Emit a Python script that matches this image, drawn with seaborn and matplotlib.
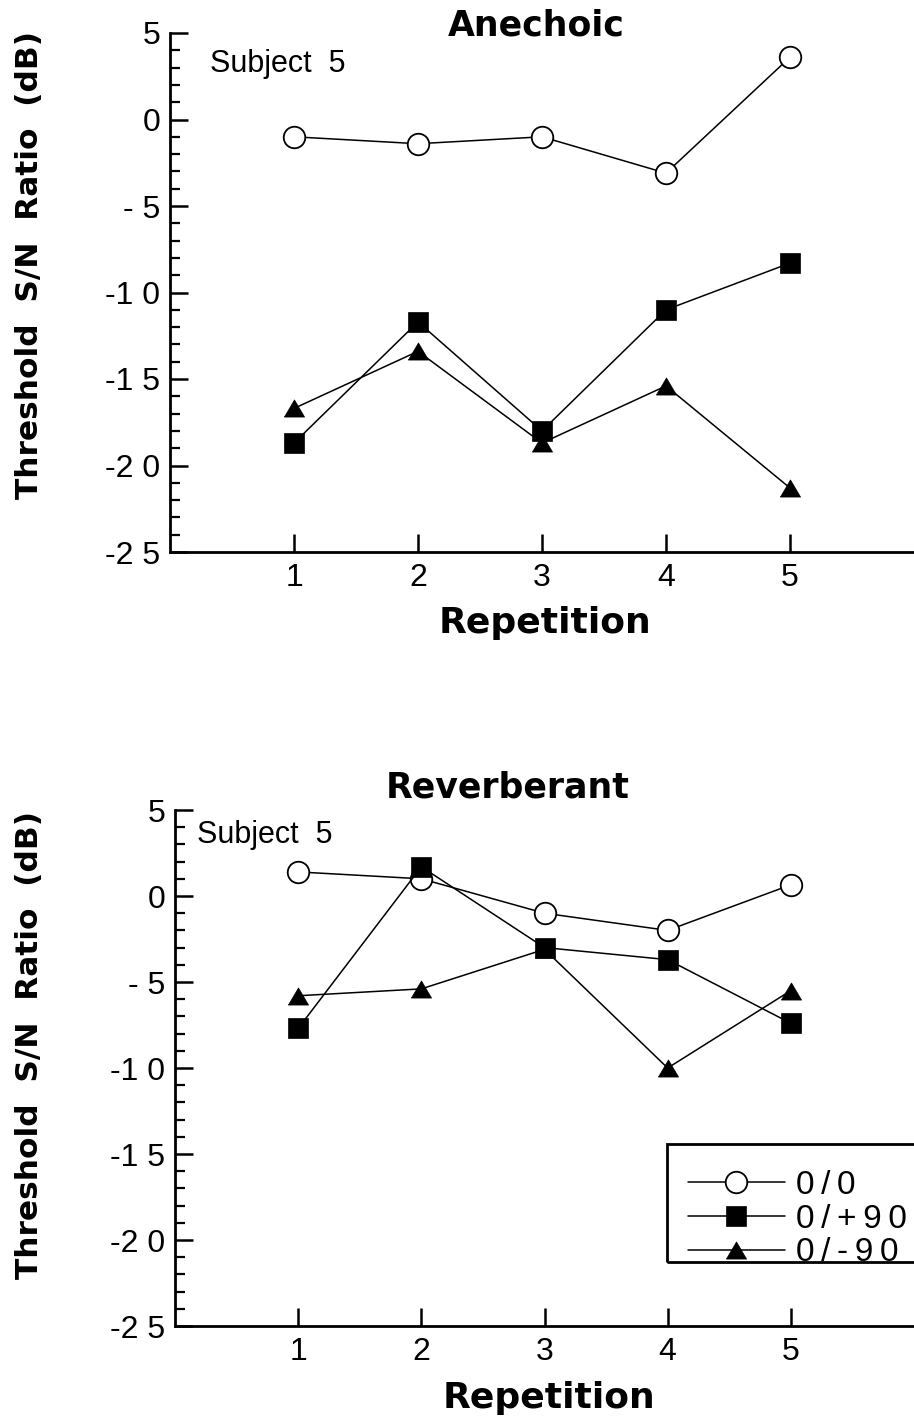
import matplotlib
matplotlib.use("Agg")
import matplotlib.pyplot as plt
from matplotlib.patches import Rectangle
import seaborn as sns
import numpy as np
import pandas as pd

# ---------------- data ----------------
repetitions = [1, 2, 3, 4, 5]
conditions = ["0/0", "0/+90", "0/-90"]

anechoic_00 = [-1.0, -1.4, -1.0, -3.1, 3.6]
anechoic_p90 = [-18.7, -11.7, -18.0, -11.0, -8.3]
anechoic_m90 = [-16.7, -13.4, -18.7, -15.4, -21.3]

reverb_00 = [1.4, 1.0, -1.0, -2.0, 0.65]
reverb_p90 = [-7.7, 1.7, -3.0, -3.7, -7.4]
reverb_m90 = [-5.8, -5.4, -3.1, -10.0, -5.5]

ytick_vals = [-25, -20, -15, -10, -5, 0, 5]
ytick_labels = ["-2 5", "-2 0", "-1 5", "-1 0", "- 5", "0", "5"]
xtick_vals = [1, 2, 3, 4, 5]
xtick_labels = ["1", "2", "3", "4", "5"]

panel_titles = ["Anechoic", "Reverberant"]
subject_text = "Subject  5"
xlabel_text = "Repetition"
ylabel_text = "Threshold  S/N  Ratio  (dB)"

# ---------------- style ----------------
sns.set_theme(style="ticks")
plt.rcParams["font.family"] = ["Liberation Sans", "DejaVu Sans"]
plt.rcParams["text.color"] = "black"

W, H = 914, 1416
fig = plt.figure(figsize=(W / 100, H / 100), dpi=100)

tri = [(-1, -0.85), (1, -0.85), (0, 0.85), (-1, -0.85)]
styles = {
    "0/0": dict(marker="o", markersize=15.5, markerfacecolor="white",
                markeredgecolor="black", markeredgewidth=1.3, zorder=3),
    "0/+90": dict(marker="s", markersize=14.5, markerfacecolor="black",
                  markeredgecolor="black", markeredgewidth=0.5, zorder=5),
    "0/-90": dict(marker=tri, markersize=14.5, markerfacecolor="black",
                  markeredgecolor="black", markeredgewidth=0.5, zorder=4),
}


def spaced(s):
    # letter-spaced display, as in the printed figure
    return "\u2009".join(s)


def make_axes(left_px, bottom_px, top_px):
    l = left_px / W
    b = 1 - bottom_px / H
    t = 1 - top_px / H
    return fig.add_axes([l, b, 1.0 - l, t - b])


ax_top = make_axes(170, 552, 33)
ax_bot = make_axes(175, 1326, 810)

datasets = [
    [anechoic_00, anechoic_p90, anechoic_m90],
    [reverb_00, reverb_p90, reverb_m90],
]

for ax, series in zip([ax_top, ax_bot], datasets):
    for cond, vals in zip(conditions, series):
        df = pd.DataFrame({"rep": repetitions, "val": vals})
        sns.lineplot(data=df, x="rep", y="val", ax=ax, color="black",
                     linewidth=1.1, label=cond, legend=False, **styles[cond])
    ax.set_xlim(0, 6)
    ax.set_ylim(-25, 5)
    ax.set_xticks(xtick_vals)
    ax.set_xticklabels(xtick_labels)
    ax.set_yticks(ytick_vals)
    ax.set_yticklabels(ytick_labels)
    ax.set_yticks(np.arange(-25, 6, 1), minor=True)
    ax.set_xlabel("")
    ax.set_ylabel("")
    for s in ["top", "right"]:
        ax.spines[s].set_visible(False)
    for s in ["left", "bottom"]:
        ax.spines[s].set_linewidth(2.0)
        ax.spines[s].set_color("black")
    ax.tick_params(axis="both", which="major", direction="in", length=13,
                   width=1.8, color="black", labelsize=23, labelcolor="black")
    ax.tick_params(axis="y", which="major", pad=7)
    ax.tick_params(axis="x", which="major", pad=8)
    ax.tick_params(axis="y", which="minor", direction="in", length=7,
                   width=1.6, color="black")
    ax.tick_params(axis="x", which="minor", length=0)
    ax.set_facecolor("white")

# Subject labels
ax_top.text(0.32, 2.75, subject_text, fontsize=22, color="black", va="baseline")
ax_bot.text(0.18, 3.1, subject_text, fontsize=22, color="black", va="baseline")

# Panel titles
bold = dict(family="DejaVu Sans", fontweight="bold", color="black")
fig.text(536 / W, 1 - 36 / H, panel_titles[0], ha="center", va="baseline",
         fontsize=25, **bold)
fig.text(508 / W, 1 - 797 / H, panel_titles[1], ha="center", va="baseline",
         fontsize=25, **bold)

# x labels
fig.text(545 / W, 1 - 633 / H, xlabel_text, ha="center", va="baseline",
         fontsize=26, **bold)
fig.text(549 / W, 1 - 1408 / H, xlabel_text, ha="center", va="baseline",
         fontsize=26, **bold)

# y labels
fig.text(30 / W, 1 - 265 / H, ylabel_text, ha="center", va="center",
         rotation=90, fontsize=22.5, **bold)
fig.text(30 / W, 1 - 1045 / H, ylabel_text, ha="center", va="center",
         rotation=90, fontsize=22.5, **bold)

# Legend in bottom panel (frame drawn separately: top padding larger than bottom)
handles, labels = ax_bot.get_legend_handles_labels()
order = [labels.index(c) for c in conditions]
leg = ax_bot.legend([handles[i] for i in order],
                    [spaced(labels[i]) for i in order],
                    loc="upper left", bbox_to_anchor=(673 / W, 1 - 1155 / H),
                    bbox_transform=fig.transFigure, borderaxespad=0,
                    frameon=False, handlelength=2.9,
                    handletextpad=0.35, labelspacing=0.08, borderpad=0.45,
                    labelcolor="black",
                    prop={"family": ["Liberation Sans", "DejaVu Sans"],
                          "size": 24})
frame = Rectangle((667 / W, 1 - 1262 / H), (918 - 667) / W, (1262 - 1144) / H,
                  transform=fig.transFigure, fill=False, edgecolor="black",
                  linewidth=2.0, clip_on=False, zorder=10)
fig.patches.append(frame)

fig.savefig("out.png", dpi=100, facecolor="white")
